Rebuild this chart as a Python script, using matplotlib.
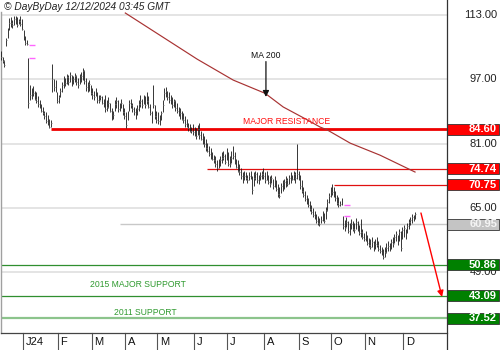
import matplotlib
matplotlib.use("Agg")
import matplotlib.pyplot as plt
from matplotlib.patches import Rectangle
from matplotlib.lines import Line2D
import matplotlib.transforms as mtransforms
import numpy as np

plt.rcParams['font.family'] = ['Liberation Sans', 'DejaVu Sans']

# ---- daily price bars (mid Dec 2023 .. 11 Dec 2024) ----
highs = [
    104.0, 102.5, 101.8, 107.2, 109.8, 112.2, 112.5, 111.8, 112.8, 112.8,
    112.5, 112.0, 112.8, 112.0, 109.2, 107.8, 106.8, 102.3, 95.5, 94.8,
    95.2, 94.2, 93.8, 92.8, 91.8, 90.8, 90.2, 89.2, 88.8, 88.0,
    87.2, 86.8, 100.8, 97.0, 96.8, 93.8, 93.0, 94.8, 96.2, 97.8,
    97.2, 98.2, 98.0, 98.8, 98.0, 97.8, 98.5, 98.0, 97.2, 98.2,
    98.8, 99.8, 99.2, 97.2, 96.2, 96.8, 95.5, 94.8, 94.2, 94.8,
    93.8, 93.0, 93.2, 92.8, 92.2, 93.0, 91.8, 92.5, 91.2, 89.8,
    89.2, 91.8, 92.5, 91.8, 91.2, 92.2, 90.8, 89.8, 88.8, 89.2,
    91.8, 92.2, 91.2, 90.2, 89.8, 90.5, 91.8, 93.0, 92.2, 93.2,
    92.8, 93.8, 92.8, 90.8, 89.2, 95.5, 90.5, 89.2, 88.8, 88.0,
    89.2, 91.8, 94.8, 95.0, 94.2, 93.8, 93.0, 92.5, 92.2, 91.8,
    91.0, 90.2, 89.8, 89.2, 88.5, 87.8, 87.0, 86.0, 85.8, 85.2,
    85.8, 85.2, 84.8, 85.5, 86.0, 84.2, 83.5, 82.8, 82.2, 81.2,
    80.5, 79.8, 78.8, 78.2, 77.8, 76.8, 77.2, 78.0, 78.8, 79.2,
    78.5, 79.8, 78.8, 78.0, 79.2, 80.5, 78.8, 77.2, 76.8, 75.8,
    74.8, 73.8, 74.2, 73.8, 73.2, 73.8, 74.2, 73.0, 73.8, 74.2,
    73.8, 73.2, 73.8, 74.2, 74.8, 73.8, 74.2, 73.2, 72.8, 73.2,
    72.2, 72.8, 71.8, 70.8, 70.2, 71.2, 71.8, 72.2, 72.8, 72.5,
    73.2, 73.8, 73.2, 74.2, 73.8, 81.0, 74.2, 73.2, 71.8, 70.2,
    69.2, 68.2, 67.5, 66.8, 65.8, 65.0, 64.2, 63.5, 63.0, 62.5,
    63.0, 64.2, 63.8, 65.2, 67.2, 68.8, 70.2, 70.8, 70.2, 69.2,
    68.2, 67.8, 66.8, 67.5, 62.9, 62.0, 62.8, 61.8, 61.2, 62.2,
    61.8, 61.2, 62.5, 61.8, 60.8, 62.2, 59.8, 58.8, 59.2, 58.2,
    57.5, 57.2, 57.8, 56.8, 57.2, 57.8, 56.8, 55.8, 55.2, 54.8,
    55.2, 56.2, 56.8, 56.2, 57.2, 57.8, 58.5, 59.2, 58.2, 59.8,
    59.2, 60.2, 60.8, 59.8, 61.2, 62.2, 62.8, 63.5, 63.2, 64.0,
]
lows = [
    101.8, 101.0, 100.0, 105.2, 107.2, 109.2, 110.0, 109.8, 110.5, 110.8,
    110.0, 110.8, 110.2, 109.2, 106.8, 105.5, 105.5, 89.8, 91.8, 92.0,
    92.8, 91.8, 91.0, 90.2, 89.8, 88.8, 88.0, 87.2, 86.2, 85.5,
    84.8, 85.0, 93.8, 94.2, 93.8, 91.0, 91.2, 92.5, 93.8, 94.8,
    95.2, 95.8, 95.5, 96.2, 95.2, 95.8, 96.2, 95.5, 94.8, 95.8,
    96.2, 96.8, 95.8, 94.2, 93.8, 94.2, 93.0, 92.2, 91.8, 92.8,
    91.2, 91.0, 91.8, 90.8, 90.2, 88.8, 89.2, 89.8, 88.8, 86.8,
    87.2, 89.2, 89.8, 88.8, 89.2, 89.8, 88.2, 87.2, 84.8, 86.8,
    89.2, 89.8, 88.8, 88.0, 87.2, 88.0, 89.2, 90.2, 89.8, 90.8,
    89.8, 90.8, 89.8, 88.0, 86.0, 89.8, 87.0, 86.2, 85.8, 85.5,
    86.8, 88.8, 91.8, 92.5, 91.8, 91.0, 90.8, 89.8, 90.2, 89.2,
    88.5, 87.8, 87.2, 86.8, 86.2, 85.2, 85.0, 84.2, 83.8, 83.5,
    83.2, 82.8, 82.2, 83.0, 82.2, 81.8, 81.0, 80.2, 79.2, 78.8,
    78.0, 77.2, 76.8, 76.2, 75.2, 74.2, 74.8, 75.5, 76.2, 76.8,
    76.0, 76.8, 75.5, 75.2, 76.2, 77.2, 75.8, 74.8, 73.8, 73.2,
    72.2, 71.2, 71.8, 71.8, 71.2, 71.8, 72.2, 68.5, 70.5, 71.8,
    71.2, 70.8, 71.8, 72.2, 72.2, 71.2, 71.8, 70.8, 70.2, 71.2,
    69.8, 70.2, 69.2, 67.8, 67.5, 68.8, 69.2, 69.8, 70.2, 70.5,
    70.8, 71.2, 71.8, 71.8, 71.2, 72.2, 71.8, 69.8, 68.8, 67.8,
    66.8, 66.0, 65.2, 64.2, 63.5, 62.8, 62.2, 61.2, 60.8, 60.5,
    61.2, 61.8, 61.2, 62.2, 64.2, 66.2, 67.8, 68.2, 67.8, 66.8,
    65.8, 65.2, 65.5, 65.8, 59.8, 59.2, 60.2, 58.8, 58.2, 59.8,
    59.2, 58.8, 59.8, 59.2, 58.2, 57.8, 57.2, 56.8, 56.8, 55.8,
    55.2, 54.8, 55.2, 54.2, 54.8, 55.2, 54.2, 53.8, 53.2, 52.2,
    52.8, 53.8, 54.2, 54.2, 54.8, 55.2, 56.2, 56.8, 55.8, 56.8,
    54.2, 57.2, 57.8, 57.2, 58.8, 59.8, 60.8, 61.2, 61.8, 62.2,
]
closes = [
    102.5, 101.5, 100.5, 106.8, 109.5, 111.0, 111.0, 110.5, 112.0, 111.5,
    110.5, 111.5, 110.8, 109.5, 107.2, 106.0, 105.8, 91.0, 93.0, 94.0,
    93.5, 92.0, 91.5, 90.8, 90.2, 89.0, 88.5, 87.8, 86.5, 86.0,
    85.2, 86.0, 97.0, 95.0, 94.5, 91.5, 92.5, 94.0, 95.5, 97.0,
    96.0, 97.5, 96.2, 98.0, 96.0, 97.0, 97.8, 96.2, 95.5, 97.2,
    97.8, 99.0, 96.5, 95.0, 94.5, 95.8, 93.5, 93.0, 92.5, 94.0,
    91.8, 91.5, 92.5, 91.2, 91.5, 89.5, 90.0, 91.0, 89.2, 87.5,
    88.0, 90.8, 91.5, 89.5, 90.0, 91.0, 88.8, 87.8, 85.5, 88.5,
    91.0, 90.5, 89.5, 88.8, 87.8, 89.5, 90.8, 91.5, 90.5, 92.5,
    90.5, 91.5, 90.2, 88.5, 86.5, 90.5, 87.8, 86.8, 86.5, 86.0,
    88.5, 90.5, 93.5, 94.0, 92.5, 91.8, 92.0, 90.5, 91.5, 89.8,
    89.0, 88.2, 88.5, 87.2, 86.8, 85.8, 85.5, 84.8, 84.2, 84.0,
    83.8, 83.5, 82.8, 84.5, 83.0, 82.2, 81.5, 80.8, 79.8, 79.2,
    78.5, 77.8, 77.2, 76.8, 75.8, 74.8, 76.0, 77.0, 77.5, 78.0,
    76.5, 78.5, 76.0, 75.8, 77.5, 78.0, 76.2, 75.2, 74.2, 73.8,
    72.8, 71.8, 73.0, 72.5, 71.8, 73.0, 72.8, 69.5, 72.5, 73.5,
    72.0, 71.5, 73.0, 73.5, 73.0, 72.0, 73.0, 71.5, 71.0, 72.5,
    70.5, 71.0, 69.8, 68.5, 68.0, 70.5, 70.5, 71.5, 71.8, 71.0,
    72.5, 72.8, 72.2, 73.5, 72.5, 73.5, 72.0, 70.5, 69.2, 68.2,
    67.2, 66.5, 65.8, 64.8, 64.0, 63.2, 62.8, 61.8, 61.2, 61.0,
    62.0, 63.0, 61.8, 64.5, 66.5, 68.0, 69.5, 69.0, 68.5, 67.5,
    66.2, 65.8, 66.0, 66.2, 60.5, 60.0, 61.5, 59.2, 58.8, 61.0,
    59.8, 59.5, 61.5, 60.0, 58.8, 59.0, 57.8, 57.2, 58.0, 56.2,
    55.8, 55.2, 56.5, 54.8, 56.0, 55.8, 54.8, 54.2, 53.5, 52.8,
    54.0, 55.0, 55.5, 54.8, 56.5, 56.0, 57.8, 58.5, 56.5, 59.0,
    55.0, 59.5, 60.0, 57.8, 60.5, 61.5, 62.0, 62.8, 62.5, 63.5,
]

# 200-day moving average (bar index, value)
ma_bar = [77.6, 122.6, 145.1, 165.1, 176.4, 191.4, 199.5, 203.9, 218.3, 237.0, 258.9]
ma_val = [113.5, 102.0, 96.8, 93.5, 90.1, 86.9, 85.1, 84.4, 81.1, 78.1, 73.9]

# month axis
month_labels = ['J24', 'F', 'M', 'A', 'M', 'J', 'J', 'A', 'S', 'O', 'N', 'D']
month_first_bar = [14, 36, 57, 78, 98, 121, 142, 165, 187, 207, 228, 252]

# price scale
grid_levels = [113.0, 97.0, 81.0, 65.0, 49.0]

# key levels and the bar where each one begins
major_resistance = 84.60
resistance_levels = [74.74, 70.75]
resistance_start = [129, 208]
reference_level = 60.95
reference_start = 74
support_levels = [50.86, 43.09, 37.52]
major_resistance_start = 31

# projected move
projection_from = (262.6, 63.7)
projection_to = (275.8, 42.8)

# gaps (bar index of the gap bar)
gap_bars = [17, 214]

# ---------------------------------------------------------------
W, H = 500, 350
fig = plt.figure(figsize=(W / 100, H / 100), dpi=100)
ax_left, ax_right, ax_top, ax_bottom = 0.5, 447.0, 12.0, 333.0
ax = fig.add_axes([ax_left / W, 1 - ax_bottom / H,
                   (ax_right - ax_left) / W, (ax_bottom - ax_top) / H])
ax.set_xlim(-0.5, 278.9)
ax.set_ylim(33.82, 113.75)
ax.set_xticks([])
ax.set_yticks([])
for s in ['top', 'right']:
    ax.spines[s].set_visible(False)
ax.spines['left'].set_color('#a0a0a0')
ax.spines['left'].set_linewidth(1.0)
ax.spines['bottom'].set_color('#444444')
ax.spines['bottom'].set_linewidth(0.9)

idx = np.arange(len(highs))

# grid
for g in grid_levels:
    ax.axhline(g, color='#dcdcdc', lw=1.1, zorder=1)

# reference level
ax.hlines(reference_level, reference_start, ax.get_xlim()[1], color='#c8c8c8', lw=1.0, zorder=1)

# support lines
ax.axhline(support_levels[0], color='#2f8f2f', lw=0.9, zorder=2)
ax.axhline(support_levels[1], color='#2f8f2f', lw=0.9, zorder=2)
ax.axhline(support_levels[2], color='#8cc48c', lw=1.6, zorder=2)

# resistance lines
ax.hlines(major_resistance, major_resistance_start, ax.get_xlim()[1], color='#ee0000', lw=2.0, zorder=2)
for lvl, st in zip(resistance_levels, resistance_start):
    ax.hlines(lvl, st, ax.get_xlim()[1], color='#e01010', lw=0.9, zorder=2)

# moving average
ax.plot(ma_bar, ma_val, color='#a83232', lw=0.85, zorder=3)

# price bars
ax.vlines(idx, lows, highs, color='#1c1c1c', lw=0.62, zorder=4)
ax.hlines(closes, idx, idx + 0.5, color='#808080', lw=0.65, zorder=4)

# gap markers
for gb in gap_bars:
    for lvl in (lows[gb - 1], highs[gb]):
        ax.hlines(lvl, gb + 0.4, gb + 4.2, color='#ff66ff', lw=1.0, zorder=5)

# annotations
txt_kw = dict(fontsize=6.2, ha='center', va='center', zorder=6)
ax.text(178.3, 86.4, 'MAJOR RESISTANCE', color='#ff1010', **txt_kw)
ax.text(85.8, 45.8, '2015 MAJOR SUPPORT', color='#2f9a2f', **txt_kw)
ax.text(90.1, 39.0, '2011 SUPPORT', color='#2f9a2f', **txt_kw)
ax.text(165.6, 103.0, 'MA 200', color='#111111', **txt_kw)
ax.annotate('', xy=(165.6, 92.6), xytext=(165.6, 101.4),
            arrowprops=dict(arrowstyle='-|>', color='#111111', lw=0.9,
                            mutation_scale=9, shrinkA=0, shrinkB=0), zorder=6)
ax.annotate('', xy=projection_to, xytext=projection_from,
            arrowprops=dict(arrowstyle='-|>', color='#ff0000', lw=1.0,
                            mutation_scale=9, shrinkA=0, shrinkB=0), zorder=6)

# right-hand price scale
blend = mtransforms.blended_transform_factory(ax.transAxes, ax.transData)
axw = ax_right - ax_left
txt_x = 1 + 50 / axw
for g in grid_levels:
    ax.text(txt_x, g, f'{g:.2f}', transform=blend, ha='right', va='center',
            fontsize=8, color='#222222', clip_on=False, zorder=7)

box_h = 11 / 4.016


def level_box(value, face, text_color='white'):
    ax.add_patch(Rectangle((1.0, value - box_h / 2), 52 / axw, box_h, transform=blend,
                           facecolor=face, edgecolor='#333333', lw=0.6,
                           clip_on=False, zorder=8))
    ax.text(txt_x, value, f'{value:.2f}', transform=blend, ha='right', va='center',
            fontsize=8, fontweight='bold', color=text_color, clip_on=False, zorder=9)


level_box(major_resistance, '#ff0000')
for lvl in resistance_levels:
    level_box(lvl, '#ff0000')
level_box(reference_level, '#c4c4c4', '#f4f4f4')
for lvl in support_levels:
    level_box(lvl, '#008000')

# month axis
xblend = mtransforms.blended_transform_factory(ax.transData, ax.transAxes)
tick_len = 17 / (ax_bottom - ax_top)
for lab, fb in zip(month_labels, month_first_bar):
    sep = fb - 0.5
    ax.add_line(Line2D([sep, sep], [0, -tick_len], transform=xblend, color='#555555',
                       lw=0.8, clip_on=False))
    ax.text(sep + 1.6, -9 / (ax_bottom - ax_top), lab, transform=xblend, ha='left',
            va='center', fontsize=8, color='#111111', clip_on=False)

# right border of the chart area
fig.add_artist(Line2D([ax_right / W, ax_right / W], [0, 1], color='#333333', lw=0.9))

# header
fig.text(4 / W, 1 - 7.5 / H, '\u00a9 DayByDay 12/12/2024 03:45 GMT', fontsize=7.3,
         style='italic', color='#222222', ha='left', va='center')

fig.savefig('out.png', dpi=100)
